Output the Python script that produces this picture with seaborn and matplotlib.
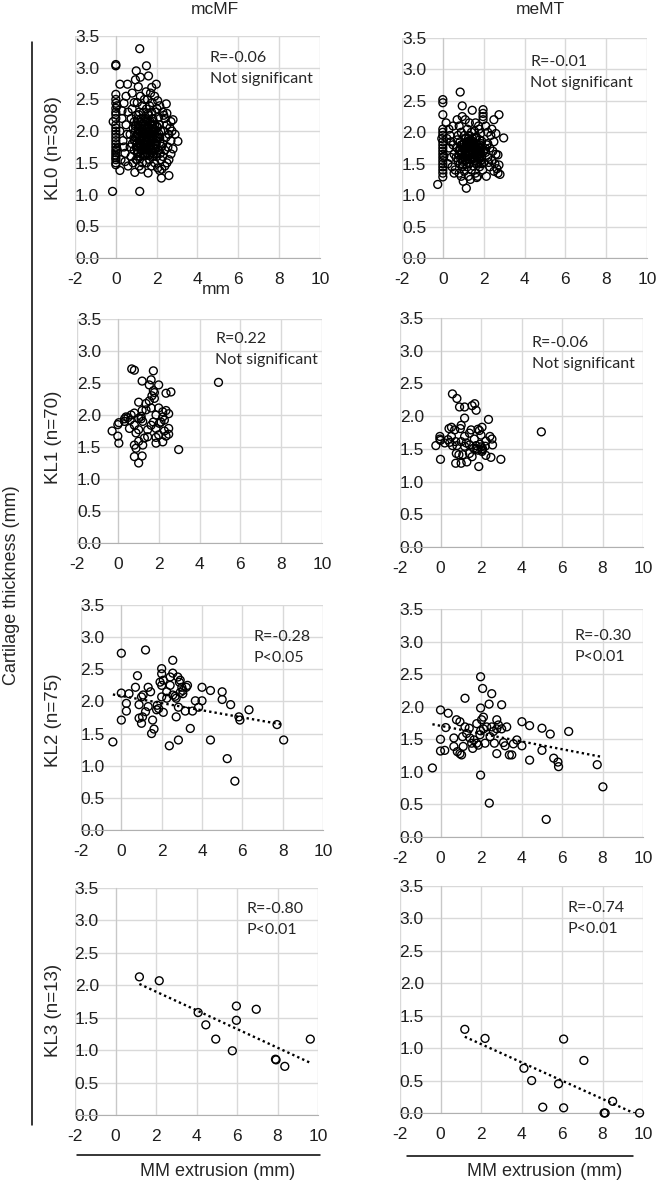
import numpy as np
import pandas as pd
import matplotlib.pyplot as plt
from matplotlib.lines import Line2D
import seaborn as sns

# ---------------- data ----------------
columns = ["mcMF", "meMT"]
row_labels = ["KL0 (n=308)", "KL1 (n=70)", "KL2 (n=75)", "KL3 (n=13)"]

kl0_mcmf_x = [0, 0, 0, 0, 0, 0, 0, 0, 0, -0.13, 0, 0, 0, 0, 0, 0, 0, 0, 0, 0, 0, 0, 0, 0, 0, -0.16, 0.05, 0.05,
              0.2, 0.57, 0.4, 0.3, 0.2, 0.35, 0.2, 0.25, 0.45, 0.5, 0.55, 0.4, 0.6, 0.45, 0.6, 0.3, 0.5,
              0.96, 1.0, 0.8, 0.9, 0.75, 0.85, 0.95, 0.8, 0.9, 0.75, 0.93, 0.85, 1.0, 0.7, 0.9, 1.0, 0.8, 0.95, 0.7,
              1.17, 1.17, 1.1, 1.2, 1.05, 1.3, 1.15, 1.25, 1.1, 1.35, 1.2, 1.05, 1.3, 1.15, 1.4, 1.1, 1.25, 1.35,
              1.2, 1.05, 1.3, 1.15, 1.25, 1.4, 1.35, 1.05, 1.2, 1.3, 1.1, 1.25, 1.4, 1.2,
              1.5, 1.6, 1.76, 1.7, 1.55, 1.65, 1.5, 1.75, 1.6, 1.45, 1.7, 1.55, 1.8, 1.65, 1.5, 1.75, 1.6, 1.45,
              1.7, 1.55, 1.8, 1.65, 1.5, 1.75, 1.58, 1.6, 1.7, 1.5, 1.62, 1.78, 1.48, 1.68,
              1.98, 1.9, 2.05, 2.15, 1.95, 2.1, 1.85, 2.0, 2.2, 1.9, 2.05, 2.15, 1.95, 2.1, 1.85, 2.0, 2.2, 1.9,
              2.05, 2.15, 1.95, 2.12, 1.88, 2.02, 2.18,
              2.47, 2.8, 3.04, 2.7, 2.6, 2.23, 2.3, 2.4, 2.5, 2.35, 2.6, 2.45, 2.7, 2.3, 2.55, 2.4, 2.65, 2.75,
              2.3, 2.5, 2.4, 2.6, 2.35, 2.9, 2.8, 2.5, 2.25, 2.7,
              1.02, 1.12, 1.22, 1.32, 1.42, 1.52, 1.62, 1.72, 1.82, 1.92, 1.08, 1.18, 1.28, 1.38, 1.48, 1.58,
              1.68, 1.78, 1.88, 1.98, 1.05, 1.15, 1.35, 1.45, 1.55, 1.65, 1.75, 1.85, 0.98, 2.08,
              1.0, 1.1, 1.2, 1.3, 1.4, 1.5, 1.6, 1.7, 1.8, 1.9, 2.0, 2.1,
              1.05, 1.15, 1.25, 1.35, 1.45, 1.55, 1.65, 1.75, 1.85, 1.95, 2.05,
              1.0, 1.1, 1.2, 1.3, 1.4, 1.5, 1.6, 1.7, 1.8, 1.9, 2.0,
              0.9, 0.95, 2.15, 2.25, 1.12, 1.58]
kl0_mcmf_y = [3.03, 3.05, 2.58, 2.50, 2.44, 2.36, 2.30, 2.26, 2.20, 2.15, 2.10, 2.05, 2.00, 1.95, 1.90, 1.85,
              1.80, 1.75, 1.70, 1.66, 1.62, 1.58, 1.55, 1.50, 1.47, 1.05, 2.40, 1.72,
              2.74, 2.74, 2.44, 2.20, 2.0, 1.85, 1.38, 1.55, 1.65, 2.1, 1.95, 1.75, 2.3, 1.52, 1.45, 2.32, 2.55,
              2.81, 2.95, 2.6, 2.45, 2.2, 2.05, 1.9, 1.8, 1.7, 1.6, 1.35, 1.5, 2.25, 1.95, 2.15, 1.55, 2.35, 2.0, 1.75,
              3.30, 1.05, 2.7, 2.55, 2.45, 2.4, 2.3, 2.2, 2.1, 2.05, 2.0, 1.95, 1.9, 1.85, 1.8, 1.75, 1.7, 1.65,
              1.6, 1.55, 1.5, 1.45, 1.4, 2.15, 2.3, 1.65, 1.8, 1.98, 2.02, 1.88, 2.5, 2.85,
              3.03, 2.87, 2.69, 2.6, 2.5, 2.4, 2.35, 2.3, 2.25, 2.2, 2.12, 2.08, 2.0, 1.95, 1.9, 1.85, 1.8, 1.75,
              1.7, 1.65, 1.6, 1.55, 1.5, 1.45, 1.34, 2.0, 1.92, 1.72, 1.62, 2.45, 2.62, 2.15,
              2.74, 2.55, 2.48, 2.4, 2.3, 2.22, 2.15, 2.08, 2.0, 1.95, 1.9, 1.82, 1.78, 1.7, 1.65, 1.6, 1.55, 1.5,
              1.42, 1.38, 1.85, 2.1, 1.72, 2.35, 1.65,
              2.43, 2.18, 1.84, 1.64, 1.30, 1.26, 2.3, 2.2, 2.1, 2.0, 1.95, 1.9, 1.85, 1.8, 1.75, 1.7, 2.05, 2.0,
              1.6, 1.5, 1.45, 1.55, 2.25, 1.95, 1.72, 2.28, 1.4, 2.15,
              1.92, 2.04, 1.76, 2.12, 1.96, 1.84, 2.06, 1.78, 1.88, 2.02, 1.68, 1.82, 2.08, 1.74, 1.86, 1.98,
              1.64, 2.1, 1.94, 1.8, 2.18, 1.9, 1.96, 1.62, 2.16, 1.72, 1.96, 2.04, 1.84, 1.9,
              1.75, 1.95, 1.85, 1.7, 2.08, 1.78, 1.9, 2.02, 1.7, 2.1, 1.88, 1.96,
              1.82, 1.6, 2.14, 1.92, 1.78, 2.04, 1.86, 1.66, 2.0, 1.72, 2.06,
              2.1, 1.68, 1.98, 1.84, 1.62, 2.18, 1.74, 1.96, 2.2, 1.8, 1.64,
              1.86, 2.08, 1.9, 1.76, 2.26, 2.28]

kl0_memt_x = [0, 0, 0, 0, 0, 0, -0.05, 0, 0, 0, 0, 0, 0, 0, 0, 0, 0, 0, 0, -0.25, 0.16, 0.05,
              0.2, 0.3, 0.4, 0.25, 0.5, 0.35, 0.45, 0.55, 0.3, 0.6, 0.5, 0.4, 0.55,
              0.85, 0.95, 0.7, 0.8, 0.9, 0.75, 0.85, 0.95, 0.7, 0.8, 0.9, 0.65, 0.75, 0.85, 0.95, 0.8, 0.9, 1.0,
              0.7, 0.95, 0.88,
              1.44, 1.15, 1.1, 1.3, 1.2, 1.4, 1.05, 1.25, 1.35, 1.15, 1.45, 1.05, 1.25, 1.35, 1.15, 1.45, 1.1,
              1.3, 1.2, 1.4, 1.05, 1.25, 1.35, 1.2, 1.3, 1.1, 1.4, 1.22, 1.32,
              1.97, 1.97, 1.97, 1.97, 1.6, 1.75, 1.55, 1.85, 1.65, 1.8, 1.5, 1.7, 1.9, 1.6, 1.75, 1.55, 1.85,
              1.65, 1.8, 1.95, 1.6, 1.7, 1.9, 1.72, 1.58, 1.88, 1.66, 1.78,
              2.75, 2.98, 2.13, 2.8, 2.7, 2.1, 2.2, 2.35, 2.5, 2.15, 2.3, 2.45, 2.6, 2.2, 2.4, 2.55, 2.3, 2.65,
              2.5, 2.7, 2.4, 2.6, 2.25, 2.75, 2.1, 2.5,
              0.9, 1.0, 1.1, 1.2, 1.3, 1.4, 1.5, 1.6, 1.7, 1.8, 1.9, 2.0, 0.95, 1.05, 1.15, 1.25, 1.35, 1.45,
              1.55, 1.65, 1.75, 1.85, 1.12, 1.42,
              0.9, 1.0, 1.1, 1.2, 1.3, 1.4, 1.5, 1.6, 1.7, 1.8, 1.9, 2.0,
              0.95, 1.05, 1.15, 1.25, 1.35, 1.45, 1.55, 1.65, 1.75, 1.85,
              1.0, 1.1, 1.2, 1.3, 1.4, 1.5, 1.6, 1.7, 1.8, 1.9,
              2.1, 2.2, 0.8, 0.85]
kl0_memt_y = [2.52, 2.47, 2.28, 2.05, 2.0, 1.95, 1.9, 1.85, 1.8, 1.75, 1.7, 1.65, 1.6, 1.55, 1.5, 1.45, 1.4,
              1.35, 1.29, 1.17, 2.15, 1.62,
              1.9, 1.75, 1.6, 1.5, 1.8, 1.95, 1.45, 1.65, 2.05, 1.4, 2.1, 1.85, 1.35,
              2.64, 2.42, 2.2, 2.1, 2.0, 1.95, 1.85, 1.8, 1.75, 1.7, 1.65, 1.6, 1.55, 1.5, 1.45, 1.35, 1.3, 1.22,
              1.88, 2.25, 1.58,
              2.35, 1.11, 2.2, 2.15, 2.05, 2.0, 1.95, 1.9, 1.85, 1.8, 1.78, 1.72, 1.7, 1.66, 1.62, 1.6, 1.55,
              1.5, 1.45, 1.4, 1.38, 1.3, 1.25, 1.75, 1.95, 1.68, 1.72, 1.58, 1.82,
              2.36, 2.3, 2.25, 2.2, 2.15, 2.1, 2.02, 1.98, 1.92, 1.88, 1.85, 1.8, 1.75, 1.7, 1.65, 1.6, 1.55,
              1.5, 1.45, 1.4, 1.35, 1.3, 1.62, 1.72, 1.55, 1.82, 1.28, 2.05,
              2.28, 1.91, 1.30, 1.33, 1.64, 2.1, 2.0, 1.95, 1.85, 1.8, 1.75, 1.7, 1.65, 1.6, 1.55, 1.5, 1.45, 1.42,
              1.38, 1.35, 2.05, 1.98, 1.52, 1.48, 1.68, 2.2,
              1.68, 1.76, 1.62, 1.84, 1.7, 1.58, 1.78, 1.66, 1.52, 1.74, 1.6, 1.7, 1.54, 1.82, 1.7, 1.64, 1.78,
              1.68, 1.72, 1.6, 1.76, 1.66, 1.9, 1.86,
              1.8, 1.56, 1.74, 1.62, 1.86, 1.72, 1.6, 1.82, 1.68, 1.58, 1.86, 1.52,
              1.7, 1.6, 1.84, 1.76, 1.56, 1.9, 1.64, 1.74, 1.58, 1.7,
              1.48, 1.9, 1.52, 1.66, 1.82, 1.46, 1.92, 1.62, 1.8, 1.5,
              1.74, 1.82, 1.64, 1.72]

kl1_mcmf_x = [0.68, 0.81, 1.19, 1.74, 1.63, 2.0, 4.93, 2.36, 2.6, 1.74,
              1.67, 1.54, 1.38, 1.02, 2.0, 2.36, -0.28, 0, 0.05, 0.33,
              0.4, 0.6, 0.81, 1.19, 1.14, 1.02, 1.87, 2.2, 2.49, 2.28,
              2.11, 1.74, 1.63, 1.87, 2.49, 2.28, 2.49, 2.0, 2.2, 1.87,
              1.46, 0.57, 0.81, 1.02, 0.89, 1.3, 0, 0.05, 0.81, 1.02,
              1.22, 2.98, 0.81, 1.19, 1.02, 0.65, 1.38, 1.79, 1.54, 0.33,
              0.49, 2.03, 2.2, 1.63, 1.22, 1.87, 1.46, 2.36, 0.89, 1.79, 1.14]
kl1_mcmf_y = [2.72, 2.70, 2.53, 2.69, 2.55, 2.47, 2.51, 2.34, 2.36, 2.38,
              2.3, 2.22, 2.18, 2.2, 2.11, 2.07, 1.75, 1.85, 1.88, 1.94,
              1.97, 1.92, 2.03, 2.07, 1.94, 1.95, 2.0, 1.97, 2.02, 1.92,
              1.89, 1.89, 1.84, 1.79, 1.79, 1.75, 1.70, 1.69, 1.58, 1.65,
              1.66, 1.79, 1.84, 1.77, 1.72, 1.64, 1.67, 1.56, 1.53, 1.59,
              1.53, 1.46, 1.35, 1.36, 1.25, 2.0, 2.08, 2.26, 2.47, 1.9,
              1.96, 1.87, 2.05, 2.11, 1.9, 1.56, 1.77, 1.67, 1.48, 2.35, 1.98]

kl1_memt_x = [0.59, 0.81, 0.94, 1.19, 1.56, 1.69, 1.76, 1.19, 2.37, 0.42,
              0.54, 0.7, 0.98, 1.85, 2.05, 4.98, -0.03, 0, -0.03, 0.37,
              0.75, 1.19, 1.43, 1.67, 2.0, 2.44, 2.54, -0.23, 0.21, 0.59,
              0.81, 1.19, 1.63, 1.79, 1.95, 2.05, 2.21, 2.57, 0.78, 1.1,
              1.43, 1.84, 2.05, 2.08, 2.49, 2.98, 0, 0.75, 1.02, 1.3,
              1.89, 1.56, 1.02, 1.27, 1.51, 0.54, 1.76, 2.24, 0.91, 1.92,
              1.02, 2.24, 2.0, 1.43, 0.46]
kl1_memt_y = [2.34, 2.27, 2.14, 2.14, 2.16, 2.19, 2.09, 1.97, 1.95, 1.81,
              1.83, 1.79, 1.81, 1.80, 1.83, 1.76, 1.69, 1.63, 1.65, 1.64,
              1.61, 1.69, 1.74, 1.65, 1.71, 1.69, 1.65, 1.55, 1.59, 1.55,
              1.55, 1.54, 1.51, 1.50, 1.57, 1.48, 1.54, 1.56, 1.43, 1.41,
              1.43, 1.48, 1.46, 1.50, 1.37, 1.34, 1.34, 1.28, 1.28, 1.30,
              1.23, 1.38, 1.61, 1.59, 1.79, 1.69, 1.55, 1.62, 1.41, 1.78,
              1.86, 1.40, 1.53, 1.56, 1.60]

kl2_mcmf_x = [0.0, 1.2, -0.42, 0, 0, 0.25, 0.25, 0.38, 0.7, 0.8,
              0.88, 0.88, 1.0, 1.0, 1.08, 1.05, 1.2, 1.33, 1.45, 1.55,
              1.5, 1.62, 1.78, 1.85, 2.0, 2.0, 1.92, 2.0, 2.08, 2.0,
              2.08, 2.25, 2.42, 2.55, 2.55, 2.55, 2.38, 2.72, 2.72, 2.8,
              2.92, 2.83, 2.83, 2.88, 3.0, 3.05, 3.22, 3.05, 3.17, 3.42,
              3.53, 3.67, 3.83, 4.0, 4.0, 4.42, 4.42, 5.0, 5.0, 5.25,
              5.42, 5.63, 5.83, 5.88, 6.33, 7.72, 8.05, 2.25, 2.42, 2.67,
              1.75, 1.33, 2.92, 3.28]
kl2_mcmf_y = [2.75, 2.80, 1.37, 2.13, 1.71, 1.97, 1.85, 2.12, 2.22, 2.40,
              1.95, 1.74, 2.07, 1.66, 2.10, 1.76, 1.84, 1.92, 2.15, 1.71,
              1.50, 1.57, 1.94, 1.89, 2.51, 2.43, 2.30, 2.25, 2.33, 2.07,
              1.83, 2.05, 2.25, 2.64, 2.44, 2.10, 1.31, 1.76, 2.05, 2.38,
              2.33, 1.40, 1.91, 2.30, 2.22, 2.17, 2.22, 2.12, 1.85, 1.58,
              1.85, 2.01, 1.91, 2.22, 2.01, 2.17, 1.40, 2.15, 2.03, 1.11,
              1.95, 0.76, 1.76, 1.71, 1.87, 1.64, 1.40, 2.15, 2.38, 2.08,
              1.87, 2.22, 2.14, 2.25]

kl2_memt_x = [-0.4, 0, 0, 0, 0.21, 0.26, 0.38, 0.66, 0.79, 0.96,
              0.83, 0.96, 1.04, 1.09, 1.21, 1.12, 1.29, 1.42, 1.54, 1.59,
              1.65, 1.79, 1.87, 1.95, 1.98, 1.98, 1.98, 1.98, 2.08, 2.12,
              2.2, 2.41, 2.4, 2.53, 2.53, 2.61, 2.66, 2.78, 2.78, 2.86,
              3.02, 3.02, 3.11, 3.19, 3.4, 3.52, 3.6, 3.77, 4.02, 4.02,
              4.4, 4.4, 5.01, 5.01, 5.22, 5.42, 5.59, 5.8, 5.83, 6.33,
              7.74, 8.02, 1.79, 2.12, 2.28, 1.21, 1.45, 0.66, 2.78, 3.27,
              2.45, 2.03]
kl2_memt_y = [1.06, 1.95, 1.50, 1.32, 1.33, 1.68, 1.90, 1.52, 1.80, 1.77,
              1.31, 1.28, 1.26, 1.54, 2.13, 1.39, 1.59, 1.67, 1.44, 1.36,
              1.49, 1.74, 1.41, 1.57, 1.63, 1.98, 2.46, 0.95, 2.28, 1.66,
              1.44, 0.52, 2.04, 2.20, 1.69, 1.62, 1.44, 1.28, 1.66, 1.72,
              2.03, 1.66, 1.45, 1.40, 1.26, 1.26, 1.43, 1.49, 1.40, 1.77,
              1.71, 1.18, 1.67, 1.33, 0.27, 1.58, 1.21, 1.15, 1.08, 1.62,
              1.11, 0.77, 1.44, 1.84, 1.69, 1.69, 1.52, 1.39, 1.80, 1.69,
              1.54, 1.80]

kl3_mcmf_x = [1.18, 2.16, 4.08, 4.46, 4.95, 5.77, 5.97, 5.97, 6.95, 7.9, 7.93, 8.36, 9.62]
kl3_mcmf_y = [2.13, 2.07, 1.58, 1.39, 1.17, 0.99, 1.68, 1.46, 1.63, 0.86, 0.85, 0.75, 1.17]

kl3_memt_x = [1.2, 2.2, 4.12, 4.5, 5.05, 5.83, 6.08, 6.08, 7.08, 8.08, 8.13, 8.5, 9.83]
kl3_memt_y = [1.29, 1.15, 0.69, 0.50, 0.09, 0.45, 0.08, 1.14, 0.81, 0.0, 0.0, 0.18, 0.0]

# linear trend lines (intercept, slope) as drawn in the figure
kl2_mcmf_trend = (2.085, -0.0556)
kl2_memt_trend = (1.707, -0.0599)
kl3_mcmf_trend = (2.19, -0.144)
kl3_memt_trend = (1.345, -0.141)

stats_text = [("R=-0.06", "Not significant"), ("R=-0.01", "Not significant"),
              ("R=0.22", "Not significant"), ("R=-0.06", "Not significant"),
              ("R=-0.28", "P<0.05"), ("R=-0.30", "P<0.01"),
              ("R=-0.80", "P<0.01"), ("R=-0.74", "P<0.01")]

x_ticks = [-2, 0, 2, 4, 6, 8, 10]
y_ticks = [0.0, 0.5, 1.0, 1.5, 2.0, 2.5, 3.0, 3.5]

# ---------------- layout ----------------
W, H = 658, 1181
sns.set_style("white")
plt.rcParams['font.family'] = ['Liberation Sans', 'DejaVu Sans']
plt.rcParams['axes.unicode_minus'] = False

fig = plt.figure(figsize=(W / 100, H / 100), dpi=100)


def px_axes(l, t, r, b):
    return fig.add_axes([l / W, 1 - b / H, (r - l) / W, (b - t) / H])


# pixel boxes (left, top, right, bottom) of each plot area
boxes = [(75, 36, 320, 258), (402, 38, 647, 258),
         (77, 319, 322, 543), (400, 318, 643, 547),
         (81, 605, 323, 830), (400, 609, 643, 837),
         (75, 888, 318, 1115), (400, 886, 643, 1113)]
ann_pos = [(4.6, 3.15), (4.27, 3.12), (4.76, 3.19), (4.51, 3.12),
           (6.53, 3.0), (6.6, 3.09), (6.49, 3.18), (6.25, 3.16)]

xs_all = [kl0_mcmf_x, kl0_memt_x, kl1_mcmf_x, kl1_memt_x, kl2_mcmf_x, kl2_memt_x, kl3_mcmf_x, kl3_memt_x]
ys_all = [kl0_mcmf_y, kl0_memt_y, kl1_mcmf_y, kl1_memt_y, kl2_mcmf_y, kl2_memt_y, kl3_mcmf_y, kl3_memt_y]
trends = [None, None, None, None, kl2_mcmf_trend, kl2_memt_trend, kl3_mcmf_trend, kl3_memt_trend]

for i in range(8):
    ax = px_axes(*boxes[i])
    ax.set_axisbelow(True)
    df = pd.DataFrame({"x": xs_all[i], "y": ys_all[i]})
    sns.scatterplot(data=df, x="x", y="y", ax=ax, s=32, facecolor="none",
                    edgecolor="black", linewidth=1.0, zorder=3, clip_on=False)
    if trends[i] is not None:
        b0, b1 = trends[i]
        tx = np.array([df["x"].min(), df["x"].max()])
        ax.plot(tx, b0 + b1 * tx, linestyle=(0, (1, 1.3)), color="black", lw=1.7, zorder=2)
    ax.set_xlim(-2, 10)
    ax.set_ylim(0, 3.5)
    ax.set_xticks(x_ticks)
    ax.set_yticks(y_ticks)
    ax.set_yticklabels([f"{v:.1f}" for v in y_ticks],
                       bbox=dict(facecolor="white", edgecolor="none", pad=1.5))
    ax.grid(True, color="#d9d9d9", lw=1.0)
    ax.spines["left"].set_position(("data", 0))
    ax.spines["top"].set_visible(False)
    ax.spines["right"].set_visible(False)
    ax.spines["left"].set_color("#c8c8c8")
    ax.spines["bottom"].set_color("#b0b0b0")
    ax.tick_params(length=0, labelsize=12.5, labelcolor="#1e1e1e")
    ax.tick_params(axis="y", pad=12)
    ax.tick_params(axis="x", pad=10)
    ax.set_xlabel("")
    ax.set_ylabel("")
    s1, s2 = stats_text[i]
    px, py = ann_pos[i]
    ax.text(px, py, s1, fontsize=11.5, family=["Lato", "DejaVu Sans"], va="center", ha="left")
    ax.text(px, py - 0.33, s2, fontsize=11.5, family=["Lato", "DejaVu Sans"], va="center", ha="left")

# column titles and row labels
fig.text(215 / W, 1 - 10 / H, columns[0], fontsize=12.5, ha="center", va="center")
fig.text(540 / W, 1 - 10 / H, columns[1], fontsize=12.5, ha="center", va="center")
for lab, cy in zip(row_labels, [148, 437, 720, 1010]):
    fig.text(54 / W, 1 - cy / H, lab, fontsize=13.5, rotation=90, ha="center", va="center")
fig.text(216 / W, 1 - 290 / H, "mm", fontsize=12.5, ha="center", va="center")

fig.text(12 / W, 1 - 585 / H, "Cartilage thickness (mm)", fontsize=13, rotation=90, ha="center", va="center")
fig.add_artist(Line2D([32 / W, 32 / W], [1 - 42 / H, 1 - 1125 / H], color="black", lw=1.1))

fig.add_artist(Line2D([77 / W, 320 / W], [1 - 1155 / H, 1 - 1155 / H], color="black", lw=1.1))
fig.add_artist(Line2D([407 / W, 633 / W], [1 - 1156 / H, 1 - 1156 / H], color="black", lw=1.1))
fig.text(218 / W, 1 - 1171 / H, "MM extrusion (mm)", fontsize=13, ha="center", va="center")
fig.text(545 / W, 1 - 1171 / H, "MM extrusion (mm)", fontsize=13, ha="center", va="center")

plt.savefig("out.png", dpi=100)
plt.close()
